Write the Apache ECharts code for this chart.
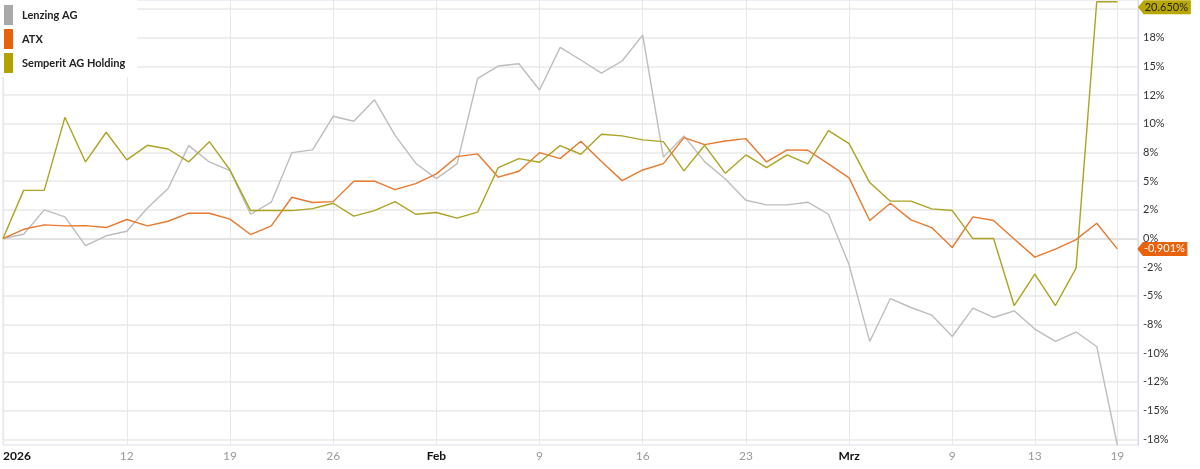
<!DOCTYPE html>
<html>
<head>
<meta charset="utf-8">
<script src="https://cdn.jsdelivr.net/npm/echarts@6/dist/echarts.min.js"></script>
<style>
html,body{margin:0;padding:0;background:#fff;}
#chart{width:1200px;height:469px;}
</style>
</head>
<body>
<div id="chart"></div>
<script>
// Trading days (last one is an empty slot at the right edge)
const dates = [
 '2026-01-02','2026-01-05','2026-01-06','2026-01-07','2026-01-08','2026-01-09',
 '2026-01-12','2026-01-13','2026-01-14','2026-01-15','2026-01-16',
 '2026-01-19','2026-01-20','2026-01-21','2026-01-22','2026-01-23',
 '2026-01-26','2026-01-27','2026-01-28','2026-01-29','2026-01-30',
 '2026-02-02','2026-02-03','2026-02-04','2026-02-05','2026-02-06',
 '2026-02-09','2026-02-10','2026-02-11','2026-02-12','2026-02-13',
 '2026-02-16','2026-02-17','2026-02-18','2026-02-19','2026-02-20',
 '2026-02-23','2026-02-24','2026-02-25','2026-02-26','2026-02-27',
 '2026-03-02','2026-03-03','2026-03-04','2026-03-05','2026-03-06',
 '2026-03-09','2026-03-10','2026-03-11','2026-03-12','2026-03-13',
 '2026-03-16','2026-03-17','2026-03-18','2026-03-19','2026-03-20'
];
const seriesNames = ['Lenzing AG', 'ATX', 'Semperit AG Holding'];
const lenzing = [0,0.38,2.5,1.89,-0.61,0.24,0.64,2.67,4.36,8.1,
 6.68,5.92,2.12,3.17,7.49,7.73,10.66,10.23,12.1,9.0,
 6.57,5.23,6.51,13.97,15.04,15.24,12.95,16.67,15.57,14.43,
 15.48,17.74,7.1,8.95,6.71,5.2,3.34,2.94,2.94,3.17,
 2.12,-2.29,-8.97,-5.23,-6.01,-6.67,-8.54,-6.06,-6.88,-6.3,
 -7.89,-8.97,-8.15,-9.41,-18.0];
const atx = [0,0.81,1.19,1.11,1.13,0.96,1.66,1.11,1.51,2.21,
 2.21,1.69,0.35,1.11,3.6,3.14,3.22,5.0,5.0,4.27,
 4.79,5.64,7.14,7.38,5.35,5.87,7.49,6.97,8.48,6.71,
 5.05,5.98,6.53,8.8,8.19,8.51,8.71,6.68,7.73,7.7,
 6.51,5.29,1.57,3.08,1.63,0.96,-0.78,1.89,1.57,-0.03,
 -1.62,-0.92,-0.09,1.34,-0.901];
const semperit = [0,4.2,4.2,10.57,6.68,9.27,6.86,8.13,7.81,6.68,
 8.45,5.98,2.44,2.44,2.44,2.61,3.08,1.95,2.44,3.22,
 2.12,2.27,1.78,2.3,6.19,6.97,6.65,8.1,7.35,9.09,
 8.95,8.6,8.45,5.9,8.13,5.7,7.29,6.19,7.29,6.51,
 9.41,8.28,4.88,3.26,3.26,2.59,2.44,0,0,-5.84,
 -3.1,-5.84,-2.58,20.65,20.65];

const xTickDates = ['2026-01-02','2026-01-12','2026-01-19','2026-01-26','2026-02-02','2026-02-09','2026-02-16','2026-02-23','2026-03-02','2026-03-09','2026-03-13','2026-03-19'];
const xTickLabels = ['2026','12','19','26','Feb','9','16','23','Mrz','9','13','19'];
const xBoldLabels = ['2026','Feb','Mrz'];

const yGridValues = [-17.5,-15,-12.5,-10,-7.5,-5,-2.5,0,2.5,5,7.5,10,12.5,15,17.5,20];
const yTickValues = [-17.5,-15,-12.5,-10,-7.5,-5,-2.5,0,2.5,5,7.5,10,12.5,15,17.5];
const yTickLabels = ['-18%','-15%','-12%','-10%','-8%','-5%','-2%','0%','2%','5%','8%','10%','12%','15%','18%'];

const colors = {
  lenzing: {swatch:'#a9a9a9', line:'#bdbdbd'},
  atx: {swatch:'#e8620c', line:'#e8782e'},
  semperit: {swatch:'#b1a201', line:'#aca322'}
};

const last = semperit.length - 1;
const flagPath = 'path://M0,5 L5.5,0 L50,0 L50,10 L5.5,10 Z';

const chart = echarts.init(document.getElementById('chart'), null, {renderer:'canvas'});
const FONT = 'Lato, "Noto Sans", sans-serif';

function lineSeries(name, data, c, extra) {
  return Object.assign({
    name: name,
    type: 'line',
    data: data,
    symbol: 'none',
    showSymbol: false,
    clip: false,
    itemStyle: {color: c.swatch},
    lineStyle: {color: c.line, width: 1.4},
    emphasis: {disabled: true},
    animation: false
  }, extra || {});
}

chart.setOption({
  animation: false,
  backgroundColor: '#fff',
  textStyle: {fontFamily: FONT},
  grid: {left: 0, right: 62, top: 0, bottom: 24, show: true, borderColor: '#dddded', borderWidth: 1, backgroundColor: 'transparent'},
  legend: {
    orient: 'vertical', left: 0, top: 0,
    padding: [5, 12, 4, 4],
    backgroundColor: '#fff',
    icon: 'rect', itemWidth: 9, itemHeight: 20, itemGap: 4,
    textStyle: {fontFamily: FONT, fontSize: 11, fontWeight: 'bold', color: '#222', padding: [0,0,0,4]},
    selectedMode: false,
    data: seriesNames
  },
  xAxis: {
    type: 'category',
    data: dates,
    boundaryGap: false,
    axisLine: {show: true, lineStyle: {color: '#e2e2e2', width: 2}},
    axisTick: {show: false},
    splitLine: {show: true, interval: function(i, v){ return xTickDates.indexOf(v) >= 0; }, lineStyle: {color: '#e8e8e8', width: 1}},
    axisLabel: {
      interval: function(i, v){ return xTickDates.indexOf(v) >= 0; },
      alignMinLabel: 'left',
      margin: 5,
      formatter: function(v){
        const k = xTickDates.indexOf(v);
        if (k < 0) return '';
        const t = xTickLabels[k];
        return xBoldLabels.indexOf(t) >= 0 ? '{b|' + t + '}' : '{n|' + t + '}';
      },
      rich: {
        b: {fontFamily: FONT, fontSize: 12, fontWeight: 'bold', color: '#111'},
        n: {fontFamily: FONT, fontSize: 12, color: '#9a9a9a'}
      }
    }
  },
  yAxis: {
    type: 'value',
    position: 'right',
    min: -18, max: 20.8,
    axisLine: {show: true, lineStyle: {color: '#d8d8e6', width: 1}},
    axisTick: {show: false, customValues: yGridValues},
    splitLine: {show: true, lineStyle: {color: '#e8e8e8', width: 1.5}},
    axisLabel: {
      customValues: yTickValues,
      margin: 5,
      color: '#333',
      fontFamily: FONT,
      fontSize: 11,
      formatter: function(v){
        const k = yTickValues.findIndex(function(t){ return Math.abs(t - v) < 1e-6; });
        return k >= 0 ? yTickLabels[k] : '';
      }
    }
  },
  series: [
    lineSeries(seriesNames[0], lenzing, colors.lenzing),
    lineSeries(seriesNames[1], atx, colors.atx, {
      markPoint: {
        silent: true, animation: false,
        symbol: flagPath, symbolKeepAspect: false,
        symbolSize: [50, 14], symbolOffset: [45, 0],
        itemStyle: {color: '#e8620c'},
        label: {show: true, position: 'inside', offset: [2, 0], color: '#fff', fontFamily: FONT, fontSize: 11,
          formatter: function(p){ return p.value.toFixed(3).replace('.', ',') + '%'; }},
        data: [{coord: [dates[last], atx[last]], value: atx[last]}]
      }
    }),
    lineSeries(seriesNames[2], semperit, colors.semperit, {
      markPoint: {
        silent: true, animation: false,
        symbol: flagPath, symbolKeepAspect: false,
        symbolSize: [53, 14], symbolOffset: [47, 5.5],
        itemStyle: {color: '#b8a702'},
        label: {show: true, position: 'inside', offset: [2, 0], color: '#222', fontFamily: FONT, fontSize: 11,
          formatter: function(p){ return p.value.toFixed(3) + '%'; }},
        data: [{coord: [dates[last], semperit[last]], value: semperit[last]}]
      }
    })
  ]
});
</script>
</body>
</html>
